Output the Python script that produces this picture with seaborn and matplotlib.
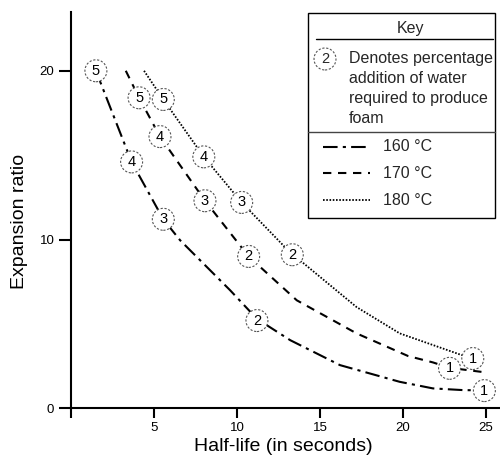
import matplotlib
matplotlib.use("Agg")
import matplotlib.pyplot as plt
from matplotlib.patches import Rectangle
import seaborn as sns
import pandas as pd

sns.set_theme(style="white")
plt.rcParams['font.family'] = ['Liberation Sans', 'DejaVu Sans']

# ---- data ----
temps = ['160 °C', '170 °C', '180 °C']

# smooth curves (half-life, expansion ratio)
curve_160_x = [1.5, 3.65, 5.56, 6.57, 9.58, 11.2, 13.2, 16.2, 19.8, 21.8, 23.6, 24.9]
curve_160_y = [20.0, 14.6, 11.2, 9.96, 7.0, 5.3, 4.04, 2.56, 1.57, 1.18, 1.08, 1.06]
curve_170_x = [3.3, 4.1, 5.36, 8.07, 10.7, 13.6, 17.2, 20.3, 21.8, 22.8, 24.0, 24.8]
curve_170_y = [20.0, 18.4, 16.1, 12.3, 9.0, 6.4, 4.44, 3.1, 2.72, 2.4, 2.25, 2.15]
curve_180_x = [4.4, 5.56, 8.0, 10.28, 13.33, 14.0, 17.2, 19.8, 21.8, 23.4, 24.2, 24.8]
curve_180_y = [20.0, 18.3, 14.9, 12.2, 9.1, 8.6, 6.0, 4.44, 3.75, 3.2, 2.95, 2.65]

# labelled points: percentage water addition
pts_160_x = [1.5, 3.65, 5.56, 11.2, 24.9]
pts_160_y = [20.0, 14.6, 11.2, 5.2, 1.05]
pts_170_x = [4.1, 5.36, 8.07, 10.7, 22.8]
pts_170_y = [18.4, 16.1, 12.3, 9.0, 2.37]
pts_180_x = [5.56, 8.0, 10.28, 13.33, 24.2]
pts_180_y = [18.3, 14.9, 12.2, 9.1, 2.95]
water_pct = [5, 4, 3, 2, 1]

x_ticks = [0, 5, 10, 15, 20, 25]
x_tick_labels = ['', '5', '10', '15', '20', '25']
y_ticks = [0, 10, 20]

key_title = 'Key'
key_example = '2'
key_note = ['Denotes percentage', 'addition of water', 'required to produce', 'foam']

# ---- styles ----
styles = {
    '160 °C': dict(ls=(0, (7, 2.5, 1.5, 2.5)), lw=1.5),
    '170 °C': dict(ls=(0, (4, 3.2)), lw=1.5),
    '180 °C': dict(ls=(0, (0.9, 0.9)), lw=1.3),
}
marker_kw = dict(s=250, color='white', edgecolor='#555555', linewidth=0.8,
                 linestyle=(0, (2, 1.5)))

curves = {
    '160 °C': (curve_160_x, curve_160_y),
    '170 °C': (curve_170_x, curve_170_y),
    '180 °C': (curve_180_x, curve_180_y),
}
points = {
    '160 °C': (pts_160_x, pts_160_y),
    '170 °C': (pts_170_x, pts_170_y),
    '180 °C': (pts_180_x, pts_180_y),
}

fig = plt.figure(figsize=(5.0, 4.63), dpi=100)
ax = fig.add_axes([0.142, 0.1181, 0.858, 0.8566])

for t in temps:
    cx, cy = curves[t]
    df = pd.DataFrame({'x': cx, 'y': cy})
    sns.lineplot(data=df, x='x', y='y', ax=ax, color='black', estimator=None,
                 sort=False, linestyle=styles[t]['ls'], linewidth=styles[t]['lw'],
                 zorder=2, clip_on=False)

for t in temps:
    px, py = points[t]
    dfp = pd.DataFrame({'x': px, 'y': py, 'n': water_pct})
    sns.scatterplot(data=dfp, x='x', y='y', ax=ax, zorder=3, clip_on=False,
                    **marker_kw)
    for xi, yi, n in zip(px, py, water_pct):
        ax.text(xi, yi, str(n), ha='center', va='center', fontsize=10.5,
                color='black', zorder=4)

ax.set_xlim(0, 25.84)
ax.set_ylim(0, 23.5)
ax.set_xticks(x_ticks)
ax.set_xticklabels(x_tick_labels)
ax.set_yticks(y_ticks)
ax.set_yticklabels([str(v) for v in y_ticks])

for s in ['top', 'right']:
    ax.spines[s].set_visible(False)
for s in ['left', 'bottom']:
    ax.spines[s].set_linewidth(1.5)
    ax.spines[s].set_color('black')

ax.tick_params(axis='y', direction='out', length=9, width=1.5, pad=3,
               labelsize=9.5, colors='black', left=True)
ax.tick_params(axis='x', direction='out', length=7, width=1.5, pad=3,
               labelsize=9.5, colors='black', bottom=True)

ax.set_xlabel('Half-life (in seconds)', fontsize=14, color='black')
ax.set_ylabel('Expansion ratio', fontsize=14, color='black')
ax.xaxis.set_label_coords(0.495, -0.075)
ax.yaxis.set_label_coords(-0.1, 0.47)
ax.grid(False)

# ---- key box (overlay axes in figure fractions) ----
kax = fig.add_axes([0, 0, 1, 1], zorder=10)
kax.set_xlim(0, 1)
kax.set_ylim(0, 1)
kax.axis('off')
kax.patch.set_alpha(0)

kax.add_patch(Rectangle((0.616, 0.529), 0.374, 0.442, facecolor='white',
                        edgecolor='black', lw=1.0))
kax.text(0.82, 0.939, key_title, ha='center', va='center', fontsize=11.5)
kax.plot([0.632, 0.986], [0.9147, 0.9147], color='black', lw=1.0)
kax.scatter([0.65], [0.8726], zorder=3, **marker_kw)
kax.text(0.65, 0.8726, key_example, ha='center', va='center', fontsize=10.5, zorder=4)
for i, line in enumerate(key_note):
    kax.text(0.698, 0.8726 - i * 0.0432, line, ha='left', va='center',
             fontsize=11.5)
kax.plot([0.616, 0.99], [0.7156, 0.7156], color='#444444', lw=1.0)
for i, t in enumerate(temps):
    yk = 0.6832 - i * 0.0576
    kax.plot([0.646, 0.74], [yk, yk], color='black', linestyle=styles[t]['ls'],
             lw=styles[t]['lw'])
    kax.text(0.766, yk, t, ha='left', va='center', fontsize=11.5)

fig.savefig('out.png', dpi=100)
